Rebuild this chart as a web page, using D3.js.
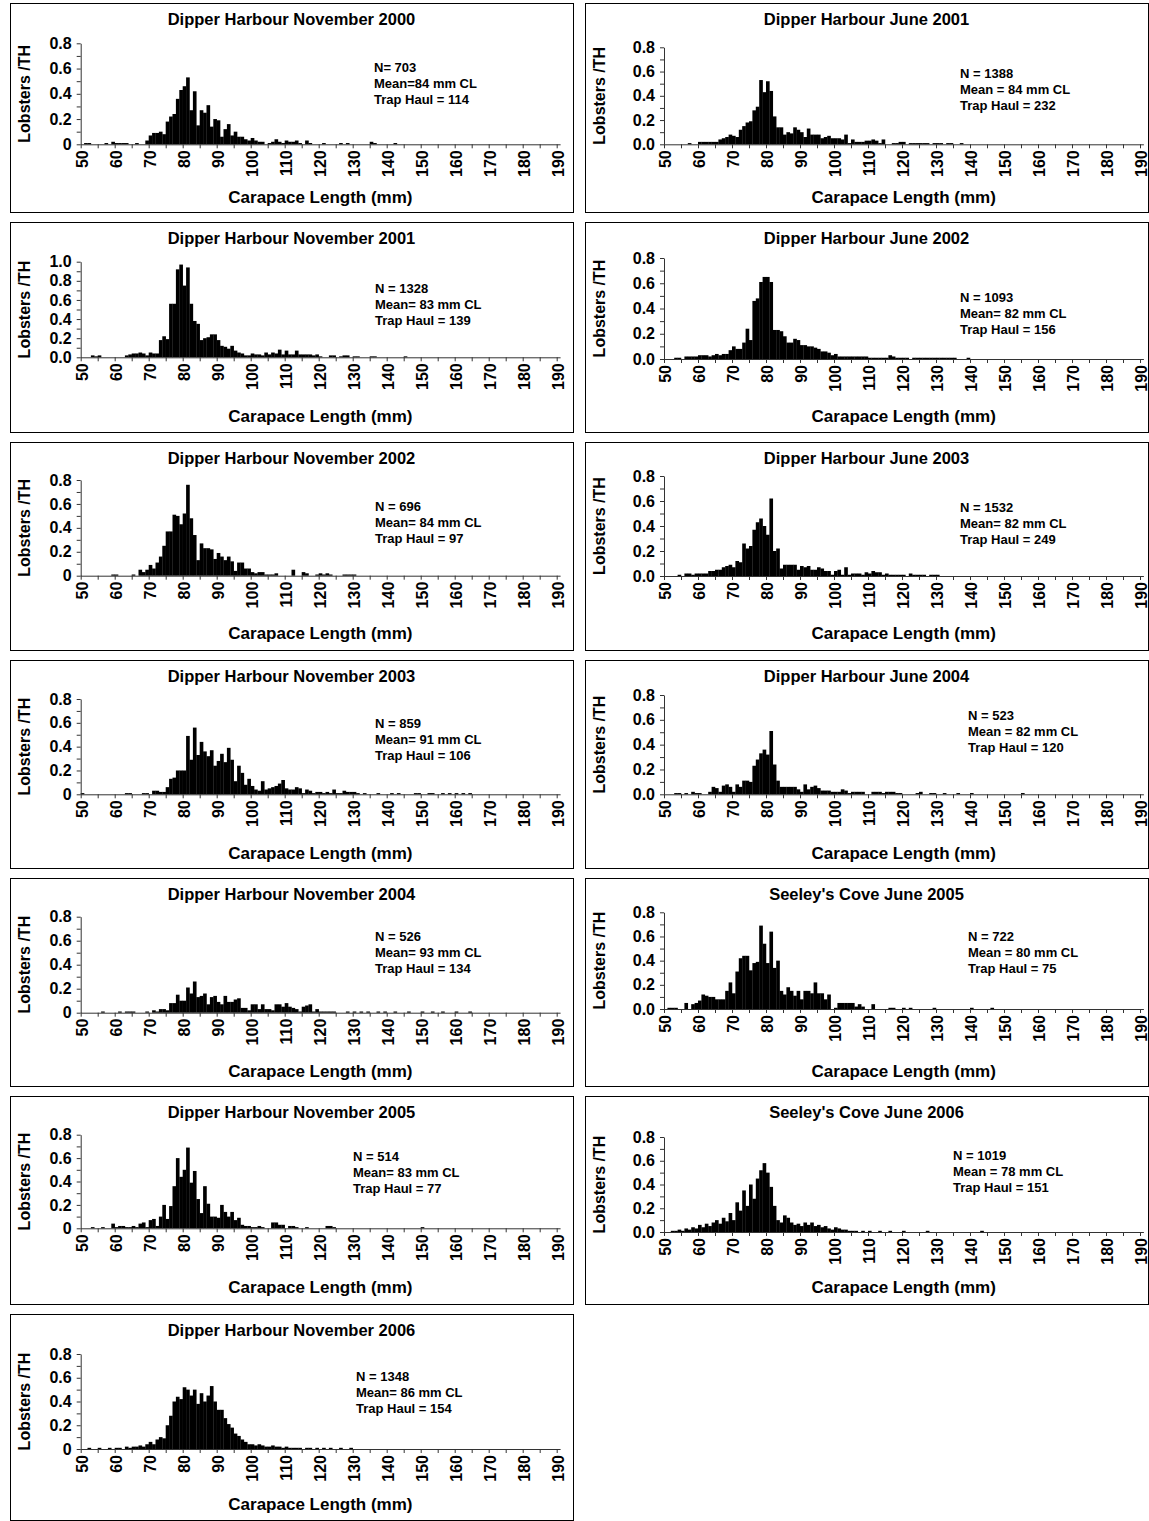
<!DOCTYPE html>
<html>
<head>
<meta charset="utf-8">
<script src="https://cdn.jsdelivr.net/npm/d3@7"></script>
<style>
  body { margin: 0; background: #fff; }
  text { font-family: "Liberation Sans", Arial, sans-serif; font-weight: bold; fill: #000; }
</style>
</head>
<body>
<svg id="chart" width="1149" height="1521"></svg>
<script>
// Carapace length classes (mm), one bar per 1 mm class
const lengthStart = 50;
const lengthEnd = 190;
const lengths = d3.range(lengthStart, lengthEnd + 1);
const axisLabels = [50, 60, 70, 80, 90, 100, 110, 120, 130, 140, 150, 160, 170, 180, 190];

// Lobsters per trap haul by length class, starting at 50 mm
const dhNov2000 = [
  0, 0.01, 0.01, 0, 0, 0, 0, 0.01, 0, 0.02,
  0.01, 0.01, 0.01, 0.01, 0, 0, 0.01, 0, 0, 0.03,
  0.07, 0.09, 0.09, 0.10, 0.08, 0.18, 0.22, 0.24, 0.36, 0.43,
  0.46, 0.53, 0.27, 0.42, 0.15, 0.27, 0.25, 0.31, 0.14, 0.20,
  0.19, 0.06, 0.12, 0.16, 0.07, 0.10, 0.06, 0.06, 0.04, 0.03,
  0.05, 0.03, 0.02, 0.02, 0, 0.01, 0.02, 0.04, 0.02, 0.01,
  0.03, 0.02, 0.02, 0.03, 0.01, 0, 0.03, 0.01, 0, 0,
  0, 0.01, 0, 0, 0, 0, 0.01, 0, 0.01, 0,
  0, 0, 0, 0, 0, 0.02, 0.01, 0, 0, 0,
  0, 0, 0.01
];
const dhJun2001 = [
  0, 0, 0, 0, 0, 0, 0, 0.01, 0, 0,
  0.02, 0.02, 0.02, 0.02, 0.02, 0.02, 0.04, 0.05, 0.06, 0.08,
  0.07, 0.06, 0.12, 0.15, 0.18, 0.19, 0.28, 0.31, 0.53, 0.43,
  0.52, 0.44, 0.23, 0.14, 0.14, 0.08, 0.10, 0.09, 0.14, 0.12,
  0.10, 0.06, 0.13, 0.08, 0.08, 0.08, 0.05, 0.06, 0.07, 0.05,
  0.05, 0.05, 0.04, 0.08, 0.01, 0.04, 0.02, 0.02, 0.02, 0.03,
  0.03, 0.04, 0.03, 0.01, 0.04, 0, 0, 0.01, 0.01, 0.02,
  0.02, 0, 0.01, 0.01, 0.01, 0.01, 0.01, 0.01, 0, 0.01,
  0.01, 0.01, 0, 0.01, 0.01, 0, 0, 0.01
];
const dhNov2001 = [
  0, 0, 0, 0.02, 0.01, 0.02, 0, 0, 0, 0,
  0, 0, 0, 0.02, 0.03, 0.04, 0.04, 0.05, 0.04, 0.02,
  0.05, 0.04, 0.04, 0.18, 0.22, 0.19, 0.56, 0.56, 0.92, 0.97,
  0.75, 0.94, 0.56, 0.38, 0.35, 0.18, 0.20, 0.21, 0.24, 0.24,
  0.18, 0.12, 0.11, 0.09, 0.12, 0.07, 0.05, 0.04, 0.02, 0.02,
  0.04, 0.03, 0.03, 0.02, 0.05, 0.03, 0.05, 0.04, 0.08, 0.03,
  0.07, 0.03, 0.03, 0.07, 0.03, 0.03, 0.03, 0.03, 0.02, 0.03,
  0.01, 0, 0, 0.02, 0.02, 0, 0.01, 0.02, 0.02, 0,
  0.01, 0.01, 0, 0, 0, 0.01, 0.01, 0, 0, 0,
  0, 0, 0, 0, 0, 0.01
];
const dhJun2002 = [
  0, 0, 0, 0.01, 0.01, 0, 0.02, 0.02, 0.02, 0.02,
  0.03, 0.03, 0.03, 0.02, 0.03, 0.04, 0.03, 0.04, 0.04, 0.07,
  0.10, 0.08, 0.08, 0.13, 0.24, 0.15, 0.46, 0.48, 0.61, 0.65,
  0.65, 0.61, 0.23, 0.23, 0.22, 0.18, 0.13, 0.13, 0.16, 0.15,
  0.11, 0.11, 0.10, 0.10, 0.09, 0.08, 0.06, 0.06, 0.05, 0.03,
  0.04, 0.02, 0.02, 0.02, 0.02, 0.02, 0.02, 0.02, 0.02, 0.02,
  0.01, 0.01, 0.01, 0.01, 0.01, 0.01, 0.03, 0.02, 0.01, 0.01,
  0.01, 0.01, 0, 0.01, 0.01, 0.01, 0.01, 0.01, 0.01, 0.01,
  0.01, 0.01, 0.01, 0.01, 0.01, 0.01, 0, 0, 0, 0.01
];
const dhNov2002 = [
  0, 0, 0, 0, 0, 0, 0, 0, 0, 0.01,
  0.01, 0, 0, 0, 0, 0.01, 0, 0.05, 0.03, 0.05,
  0.09, 0.06, 0.11, 0.16, 0.25, 0.37, 0.37, 0.51, 0.50, 0.43,
  0.52, 0.76, 0.48, 0.34, 0.13, 0.27, 0.23, 0.23, 0.22, 0.14,
  0.19, 0.16, 0.13, 0.16, 0.12, 0.04, 0.11, 0.11, 0.06, 0.06,
  0.03, 0.02, 0.03, 0.03, 0.01, 0.01, 0.01, 0.02, 0, 0,
  0, 0, 0.05, 0, 0, 0.03, 0.02, 0, 0, 0.01,
  0.02, 0.01, 0.02, 0.01, 0, 0, 0, 0.01, 0.01, 0.01,
  0.01
];
const dhJun2003 = [
  0, 0, 0, 0, 0.01, 0, 0.02, 0.02, 0.01, 0.02,
  0.02, 0.02, 0.02, 0.04, 0.04, 0.05, 0.05, 0.07, 0.08, 0.09,
  0.07, 0.12, 0.11, 0.26, 0.22, 0.24, 0.37, 0.43, 0.46, 0.40,
  0.33, 0.62, 0.20, 0.22, 0.06, 0.09, 0.09, 0.09, 0.09, 0.05,
  0.08, 0.07, 0.08, 0.05, 0.05, 0.07, 0.06, 0.04, 0.04, 0.01,
  0.04, 0.05, 0.01, 0.07, 0.01, 0.02, 0.02, 0.02, 0.01, 0.03,
  0.02, 0.04, 0.03, 0.03, 0.01, 0.02, 0.01, 0.01, 0.01, 0.01,
  0.01, 0, 0.02, 0.01, 0.01, 0.01, 0.01, 0, 0.01, 0.01,
  0.01
];
const dhNov2003 = [
  0.01, 0, 0, 0, 0, 0, 0, 0, 0, 0,
  0, 0, 0, 0.01, 0.01, 0, 0, 0, 0.01, 0.01,
  0, 0.03, 0.03, 0.02, 0.02, 0.06, 0.13, 0.14, 0.20, 0.20,
  0.20, 0.49, 0.29, 0.56, 0.33, 0.44, 0.36, 0.32, 0.37, 0.24,
  0.28, 0.34, 0.27, 0.39, 0.29, 0.11, 0.24, 0.18, 0.08, 0.13,
  0.07, 0.04, 0.03, 0.11, 0.04, 0.05, 0.06, 0.07, 0.09, 0.12,
  0.05, 0.04, 0.04, 0.06, 0.05, 0.01, 0.04, 0.03, 0.01, 0.02,
  0.02, 0.01, 0.02, 0.01, 0.04, 0.01, 0.01, 0.03, 0.02, 0.02,
  0.02, 0.01, 0, 0.01, 0, 0, 0, 0.01, 0, 0,
  0, 0.01, 0, 0.01, 0, 0, 0, 0, 0.01, 0.01,
  0, 0, 0.01, 0.01, 0, 0, 0.01, 0, 0.01, 0,
  0.01, 0, 0.01, 0, 0.01
];
const dhJun2004 = [
  0, 0, 0, 0.01, 0.01, 0, 0.01, 0, 0.02, 0.01,
  0.01, 0, 0, 0.02, 0.06, 0.05, 0.02, 0.07, 0.08, 0.06,
  0.02, 0.08, 0.06, 0.11, 0.11, 0.10, 0.23, 0.28, 0.33, 0.36,
  0.32, 0.51, 0.24, 0.11, 0.06, 0.06, 0.06, 0.06, 0.06, 0.04,
  0.02, 0.08, 0.04, 0.06, 0.07, 0.05, 0.03, 0.03, 0.03, 0.02,
  0.02, 0.02, 0.04, 0.03, 0.01, 0.02, 0.02, 0.02, 0.02, 0,
  0, 0.02, 0.02, 0.02, 0.01, 0.02, 0.02, 0.02, 0.01, 0.01,
  0, 0, 0, 0, 0.01, 0.02, 0, 0, 0.01, 0.01,
  0, 0, 0.01, 0, 0, 0, 0.01, 0, 0, 0,
  0.01, 0, 0, 0, 0, 0, 0, 0, 0, 0,
  0, 0, 0, 0, 0, 0.01
];
const dhNov2004 = [
  0, 0, 0, 0, 0, 0, 0.01, 0, 0, 0,
  0, 0.01, 0, 0.01, 0.01, 0.01, 0, 0, 0, 0.01,
  0, 0.02, 0.01, 0.03, 0.03, 0.02, 0.08, 0.08, 0.15, 0.10,
  0.10, 0.21, 0.16, 0.26, 0.13, 0.14, 0.16, 0.07, 0.13, 0.14,
  0.09, 0.07, 0.14, 0.09, 0.09, 0.11, 0.12, 0.04, 0.04, 0.02,
  0.07, 0.07, 0.03, 0.07, 0.03, 0.03, 0.02, 0.07, 0.07, 0.05,
  0.08, 0.05, 0.04, 0.03, 0.01, 0.05, 0.06, 0.07, 0.01, 0.03,
  0.01, 0.01, 0.01, 0.01, 0.01, 0, 0, 0, 0.01, 0,
  0.01, 0, 0.01, 0, 0.01, 0, 0, 0.01, 0, 0.01,
  0, 0, 0.01, 0, 0, 0, 0.01, 0, 0, 0,
  0.01, 0, 0, 0.01, 0, 0, 0.01, 0, 0, 0,
  0.01, 0, 0, 0, 0.01
];
const scJun2005 = [
  0, 0.01, 0.01, 0.01, 0, 0, 0.05, 0, 0.04, 0.05,
  0.07, 0.12, 0.11, 0.10, 0.10, 0.08, 0.08, 0.08, 0.15, 0.22,
  0.13, 0.31, 0.42, 0.44, 0.44, 0.32, 0.38, 0.39, 0.69, 0.54,
  0.38, 0.64, 0.34, 0.40, 0.15, 0.12, 0.18, 0.15, 0.11, 0.15,
  0.08, 0.15, 0.15, 0.13, 0.22, 0.13, 0.13, 0.08, 0.12, 0,
  0.01, 0.05, 0.05, 0.05, 0.05, 0.05, 0.02, 0.04, 0.02, 0,
  0, 0.04, 0, 0, 0, 0, 0.01, 0.01, 0, 0,
  0.01, 0, 0.01, 0, 0, 0, 0, 0, 0, 0.01,
  0, 0, 0, 0, 0, 0, 0, 0, 0, 0,
  0.01, 0, 0, 0, 0, 0, 0.01, 0, 0, 0,
  0, 0, 0, 0, 0, 0, 0, 0, 0, 0,
  0, 0, 0, 0, 0, 0, 0, 0, 0, 0,
  0, 0, 0
];
const dhNov2005 = [
  0, 0, 0, 0.01, 0, 0, 0.01, 0, 0, 0.04,
  0.01, 0.02, 0.02, 0.01, 0.01, 0.02, 0.01, 0.04, 0.05, 0.01,
  0.07, 0.08, 0.02, 0.10, 0.20, 0.08, 0.19, 0.36, 0.60, 0.44,
  0.50, 0.69, 0.39, 0.49, 0.25, 0.13, 0.36, 0.21, 0.10, 0.10,
  0.09, 0.20, 0.14, 0.10, 0.14, 0.07, 0.09, 0.03, 0.02, 0.02,
  0.01, 0.01, 0.02, 0.01, 0, 0, 0.05, 0.05, 0.03, 0.03,
  0, 0.02, 0.02, 0.01, 0, 0, 0.01, 0, 0, 0,
  0, 0, 0.02, 0.02, 0.01, 0, 0, 0, 0, 0,
  0, 0, 0, 0, 0, 0, 0, 0, 0, 0,
  0, 0, 0, 0, 0, 0, 0, 0, 0, 0,
  0.01
];
const scJun2006 = [
  0, 0, 0.01, 0.01, 0.02, 0.01, 0.03, 0.02, 0.04, 0.03,
  0.06, 0.04, 0.07, 0.05, 0.08, 0.10, 0.07, 0.12, 0.09, 0.16,
  0.10, 0.25, 0.18, 0.35, 0.22, 0.40, 0.28, 0.45, 0.52, 0.58,
  0.50, 0.38, 0.22, 0.10, 0.08, 0.14, 0.12, 0.08, 0.06, 0.07,
  0.05, 0.08, 0.06, 0.08, 0.05, 0.06, 0.04, 0.05, 0.03, 0.02,
  0.04, 0.03, 0.02, 0.02, 0.01, 0.01, 0.01, 0, 0.01, 0,
  0.01, 0, 0, 0.01, 0, 0, 0.01, 0, 0, 0,
  0.01, 0, 0, 0, 0, 0, 0, 0.01, 0, 0,
  0, 0, 0, 0, 0, 0, 0, 0, 0, 0,
  0, 0, 0, 0.01
];
const dhNov2006 = [
  0, 0, 0.01, 0, 0, 0.01, 0, 0, 0.01, 0,
  0.01, 0.01, 0, 0.02, 0.01, 0.02, 0.02, 0.03, 0.02, 0.04,
  0.06, 0.04, 0.08, 0.10, 0.09, 0.20, 0.28, 0.40, 0.44, 0.42,
  0.52, 0.50, 0.45, 0.50, 0.38, 0.47, 0.40, 0.45, 0.53, 0.40,
  0.33, 0.33, 0.26, 0.21, 0.18, 0.13, 0.11, 0.08, 0.06, 0.04,
  0.04, 0.03, 0.04, 0.03, 0.02, 0.02, 0.03, 0.02, 0.02, 0.01,
  0.02, 0.01, 0.01, 0.01, 0.01, 0, 0.01, 0.01, 0, 0.01,
  0, 0.01, 0, 0.01, 0, 0, 0.01, 0, 0, 0.01
];

const titles = [
  "Dipper Harbour November 2000", "Dipper Harbour June 2001",
  "Dipper Harbour November 2001", "Dipper Harbour June 2002",
  "Dipper Harbour November 2002", "Dipper Harbour June 2003",
  "Dipper Harbour November 2003", "Dipper Harbour June 2004",
  "Dipper Harbour November 2004", "Seeley's Cove June 2005",
  "Dipper Harbour November 2005", "Seeley's Cove June 2006",
  "Dipper Harbour November 2006"
];
const series = [
  dhNov2000, dhJun2001, dhNov2001, dhJun2002, dhNov2002, dhJun2003, dhNov2003,
  dhJun2004, dhNov2004, scJun2005, dhNov2005, scJun2006, dhNov2006
];
const sampleLines = ["N= 703", "N = 1388", "N = 1328", "N = 1093", "N = 696", "N = 1532", "N = 859",
  "N = 523", "N = 526", "N = 722", "N = 514", "N = 1019", "N = 1348"];
const meanLines = ["Mean=84 mm CL", "Mean = 84 mm CL", "Mean= 83 mm CL", "Mean= 82 mm CL", "Mean= 84 mm CL",
  "Mean= 82 mm CL", "Mean= 91 mm CL", "Mean = 82 mm CL", "Mean= 93 mm CL", "Mean = 80 mm CL",
  "Mean= 83 mm CL", "Mean = 78 mm CL", "Mean= 86 mm CL"];
const haulLines = ["Trap Haul = 114", "Trap Haul = 232", "Trap Haul = 139", "Trap Haul = 156", "Trap Haul = 97",
  "Trap Haul = 249", "Trap Haul = 106", "Trap Haul = 120", "Trap Haul = 134", "Trap Haul = 75",
  "Trap Haul = 77", "Trap Haul = 151", "Trap Haul = 154"];
const yMaxes = [0.8, 0.8, 1.0, 0.8, 0.8, 0.8, 0.8, 0.8, 0.8, 0.8, 0.8, 0.8, 0.8];
const zeroWithDecimal = [false, true, true, true, false, true, false, true, false, true, false, true, false];

// Panel geometry: frame box, plot origin / top / baseline, note anchor
const frames = [
  { box: [10, 3, 563, 209],     x0: 80.7, top: 43.3,   base: 144.3,  note: [374, 72],   xTitle: 197 },
  { box: [585, 3, 563, 209],    x0: 664,  top: 47.3,   base: 144.3,  note: [960, 78],   xTitle: 197 },
  { box: [10, 222, 563, 210],   x0: 80.7, top: 261.7,  base: 357.3,  note: [375, 293],  xTitle: 416 },
  { box: [585, 222, 563, 210],  x0: 664,  top: 258,    base: 359,    note: [960, 302],  xTitle: 416 },
  { box: [10, 442, 563, 208],   x0: 80.7, top: 480,    base: 575.7,  note: [375, 511],  xTitle: 633 },
  { box: [585, 442, 563, 208],  x0: 664,  top: 476,    base: 576,    note: [960, 512],  xTitle: 633 },
  { box: [10, 660, 563, 208],   x0: 80.7, top: 699,    base: 794.3,  note: [375, 728],  xTitle: 853 },
  { box: [585, 660, 563, 208],  x0: 664,  top: 695,    base: 794.3,  note: [968, 720],  xTitle: 853 },
  { box: [10, 878, 563, 208],   x0: 80.7, top: 916.7,  base: 1012.7, note: [375, 941],  xTitle: 1071 },
  { box: [585, 878, 563, 208],  x0: 664,  top: 912.3,  base: 1009,   note: [968, 941],  xTitle: 1071 },
  { box: [10, 1096, 563, 208],  x0: 80.7, top: 1134.7, base: 1228.3, note: [353, 1161], xTitle: 1287 },
  { box: [585, 1096, 563, 208], x0: 664,  top: 1137,   base: 1232,   note: [953, 1160], xTitle: 1287 },
  { box: [10, 1314, 563, 206],  x0: 80.7, top: 1354,   base: 1449,   note: [356, 1381], xTitle: 1504 }
];
const classWidth = 3.4;

const svg = d3.select("#chart");
svg.append("rect").attr("width", 1149).attr("height", 1521).attr("fill", "#fff");

series.forEach((values, i) => {
  const f = frames[i];
  const g = svg.append("g");

  g.append("rect")
    .attr("x", f.box[0] + 0.5).attr("y", f.box[1] + 0.5)
    .attr("width", f.box[2]).attr("height", f.box[3])
    .attr("fill", "none").attr("stroke", "#000").attr("stroke-width", 1);

  const xEnd = f.x0 + lengths.length * classWidth;
  const x = d3.scaleLinear()
    .domain([lengthStart - 0.5, lengthEnd + 0.5])
    .range([f.x0, xEnd]);
  const y = d3.scaleLinear().domain([0, yMaxes[i]]).range([f.base, f.top]);

  // bars
  const rows = values.map((v, k) => ({ len: lengthStart + k, v }))
    .filter(d => d.v > 0);
  g.append("g").selectAll("rect").data(rows).join("rect")
    .attr("x", d => x(d.len - 0.5))
    .attr("width", x(1) - x(0) + 0.25)
    .attr("y", d => y(d.v))
    .attr("height", d => y(0) - y(d.v))
    .attr("fill", "#000");

  // y axis
  const yTicks = d3.range(0, Math.round(yMaxes[i] * 10) + 1).map(k => k / 10);
  const fmt = d3.format(".1f");
  const yAxis = d3.axisLeft(y)
    .tickValues(yTicks)
    .tickSize(4)
    .tickSizeOuter(0)
    .tickPadding(5)
    .tickFormat(d => {
      const k = Math.round(d * 10);
      if (k % 2 !== 0) return "";
      if (k === 0 && !zeroWithDecimal[i]) return "0";
      return fmt(d);
    });
  const ya = g.append("g").attr("transform", `translate(${f.x0},0)`).call(yAxis);
  ya.selectAll("text").style("font-size", "16px");

  // x axis: ticks every 5 classes on class boundaries
  const boundaries = d3.range(lengthStart - 0.5, lengthEnd + 0.6, 5);
  const xAxis = d3.axisBottom(x).tickValues(boundaries).tickSize(4).tickSizeOuter(0).tickFormat("");
  g.append("g").attr("transform", `translate(0,${f.base})`).call(xAxis);

  g.selectAll(".domain").attr("stroke", "#333");
  g.selectAll(".tick line").attr("stroke", "#333");

  // rotated length labels
  g.append("g").selectAll("text").data(axisLabels).join("text")
    .attr("transform", d => `translate(${x(d)},${f.base + 6}) rotate(-90)`)
    .attr("text-anchor", "end")
    .attr("dy", "0.36em")
    .style("font-size", "16px")
    .text(d => d);

  // titles
  g.append("text")
    .attr("x", f.box[0] + f.box[2] / 2).attr("y", f.box[1] + 22)
    .attr("text-anchor", "middle").style("font-size", "16.5px")
    .text(titles[i]);

  g.append("text")
    .attr("x", (f.x0 + xEnd) / 2).attr("y", f.xTitle + 6)
    .attr("text-anchor", "middle").style("font-size", "17px")
    .text("Carapace Length (mm)");

  g.append("text")
    .attr("transform", `translate(${f.box[0] + 20},${(f.top + f.base) / 2}) rotate(-90)`)
    .attr("text-anchor", "middle").style("font-size", "16px")
    .text("Lobsters /TH");

  // sample note
  const note = g.append("text").style("font-size", "13px");
  [sampleLines[i], meanLines[i], haulLines[i]].forEach((t, k) => {
    note.append("tspan").attr("x", f.note[0]).attr("y", f.note[1] + k * 16).text(t);
  });
});
</script>
</body>
</html>
